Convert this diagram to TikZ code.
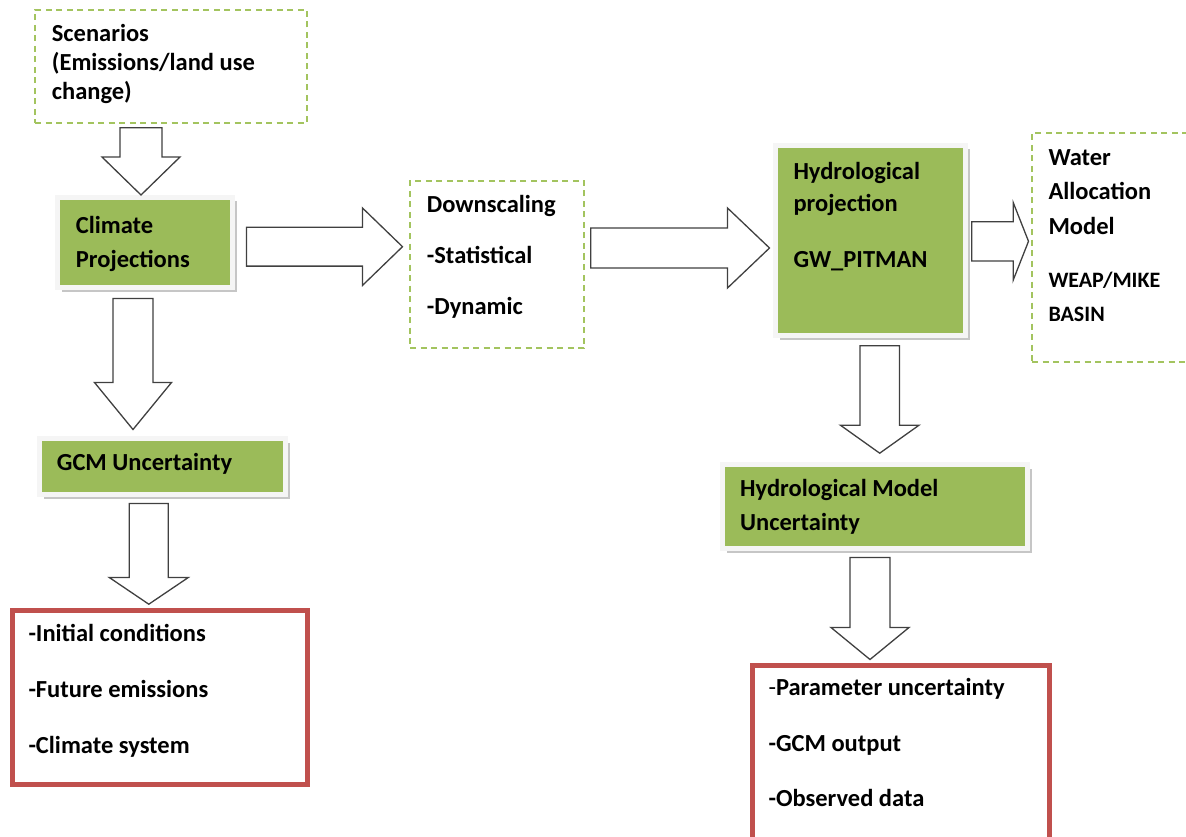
\documentclass[tikz,border=0pt]{standalone}
\usepackage{fontspec}
\setmainfont{Carlito}
\usepackage{tikz}
\usetikzlibrary{calc,shadows}
\definecolor{olGreen}{HTML}{9BBB59}
\definecolor{olDash}{HTML}{A3C45F}
\definecolor{olRed}{HTML}{C0504D}
\definecolor{olLine}{HTML}{404040}
\tikzset{
  blockarr/.style={draw=olLine, fill=white, line width=1.3pt, line join=miter},
  greenbox/.style={rectangle, fill=olGreen, draw=gray!8, line width=5pt, inner sep=0pt,
    drop shadow={shadow xshift=4pt, shadow yshift=-4pt, fill=gray!45, opacity=1}},
  dashbox/.style={rectangle, draw=olDash, line width=1.6pt, dash pattern=on 6pt off 4.5pt, inner sep=0pt},
  redbox/.style={rectangle, draw=olRed, line width=5pt, inner sep=0pt},
  txt/.style={font=\fontsize{24.5}{#1}\selectfont\bfseries, anchor=base west, inner sep=0pt, align=left},
  txt/.default=29
}
% block arrows: #1 start, #2 tip, #3 half shaft, #4 half head, #5 head length
\newcommand{\barrowdown}[5]{%
  \draw[blockarr] let \p1=#1, \p2=#2 in
    (\x1-#3,\y1) -- (\x1-#3,\y2+#5) -- (\x1-#4,\y2+#5) -- (\x1,\y2)
    -- (\x1+#4,\y2+#5) -- (\x1+#3,\y2+#5) -- (\x1+#3,\y1) -- cycle;}
\newcommand{\barrowright}[5]{%
  \draw[blockarr] let \p1=#1, \p2=#2 in
    (\x1,\y1+#3) -- (\x2-#5,\y1+#3) -- (\x2-#5,\y1+#4) -- (\x2,\y1)
    -- (\x2-#5,\y1-#4) -- (\x2-#5,\y1-#3) -- (\x1,\y1-#3) -- cycle;}
\begin{document}
\begin{tikzpicture}[x=1pt,y=-1pt]
  \useasboundingbox (0,0) rectangle (1186,837);
  \clip (0,0) rectangle (1186,837);
  % boxes
  \node[dashbox, minimum width=272pt, minimum height=113pt] (scen) at (171,66.5) {};
  \node[greenbox, minimum width=175pt, minimum height=90pt] (clim) at (145,242.5) {};
  \node[dashbox, minimum width=174pt, minimum height=167pt] (dscl) at (497,264.5) {};
  \node[greenbox, minimum width=190pt, minimum height=190pt] (hyd) at (870.5,240.5) {};
  \node[dashbox, minimum width=163pt, minimum height=229pt] (water) at (1113.5,247.5) {};
  \node[greenbox, minimum width=246pt, minimum height=56pt] (gcm) at (162.5,466.5) {};
  \node[greenbox, minimum width=305pt, minimum height=84pt] (hmu) at (875,506.5) {};
  \node[redbox, minimum width=295pt, minimum height=174pt] (red1) at (160,697.5) {};
  \node[redbox, minimum width=296.5pt, minimum height=174.2pt] (red2) at (900.75,752.9) {};
  % texts (placed at the baseline of the last line)
  \node[txt=29] (scenT) at (51.7,100) {Scenarios\\(Emissions/land use\\change)};
  \node[txt=34] (climT) at (75.7,267) {Climate\\Projections};
  \node[txt=50.7] (dsclT) at (426.7,314.1) {Downscaling\\-Statistical\\-Dynamic};
  \node[txt=32.7] (hydT) at (793.3,267.3) {Hydrological\\projection\\[22.9pt]GW\_PITMAN};
  \node[txt=34.6] (waterT) at (1048.3,234.2) {Water\\Allocation\\Model};
  \node[txt=33.7, font=\fontsize{22}{33.7}\selectfont\bfseries] (weapT) at (1048.3,321) {WEAP/MIKE\\BASIN};
  \node[txt] (gcmT) at (56.7,470.7) {GCM Uncertainty};
  \node[txt=33.3] (hmuT) at (740,530) {Hydrological Model\\Uncertainty};
  \node[txt=55.8] (red1T) at (28.3,753.3) {-Initial conditions\\-Future emissions\\-Climate system};
  \node[txt=55.5] (red2T) at (768.3,806.7) {{\mdseries -}Parameter uncertainty\\-GCM output\\-Observed data};
  % arrows
  \barrowdown{([xshift=-30pt,yshift=-4pt]scen.south)}{(clim.north)}{21pt}{39pt}{38pt}
  \barrowright{([xshift=11.5pt,yshift=-4.2pt]clim.east)}{([xshift=-6.7pt]dscl.west)}{19.4pt}{38.7pt}{40pt}
  \barrowright{([xshift=6pt,yshift=16.5pt]dscl.east)}{([xshift=-3.5pt]hyd.west)}{20pt}{40pt}{42pt}
  \barrowright{([xshift=3.8pt,yshift=-0.8pt]hyd.east)}{([xshift=-2.7pt]water.west)}{19.6pt}{38.8pt}{15.3pt}
  \barrowdown{([xshift=-12pt,yshift=-8.5pt]clim.south)}{([yshift=6.5pt]gcm.north)}{20pt}{38.5pt}{47pt}
  \barrowdown{([xshift=-13.7pt,yshift=-6.5pt]gcm.south)}{([yshift=3.8pt]red1.north)}{19.5pt}{39.5pt}{26.7pt}
  \barrowdown{([xshift=9.2pt,yshift=-7.8pt]hyd.south)}{([yshift=8.8pt]hmu.north)}{19.7pt}{39.3pt}{28pt}
  \barrowdown{([xshift=-5pt,yshift=-6.5pt]hmu.south)}{([yshift=3.8pt]red2.north)}{20pt}{39pt}{32pt}
\end{tikzpicture}
\end{document}
